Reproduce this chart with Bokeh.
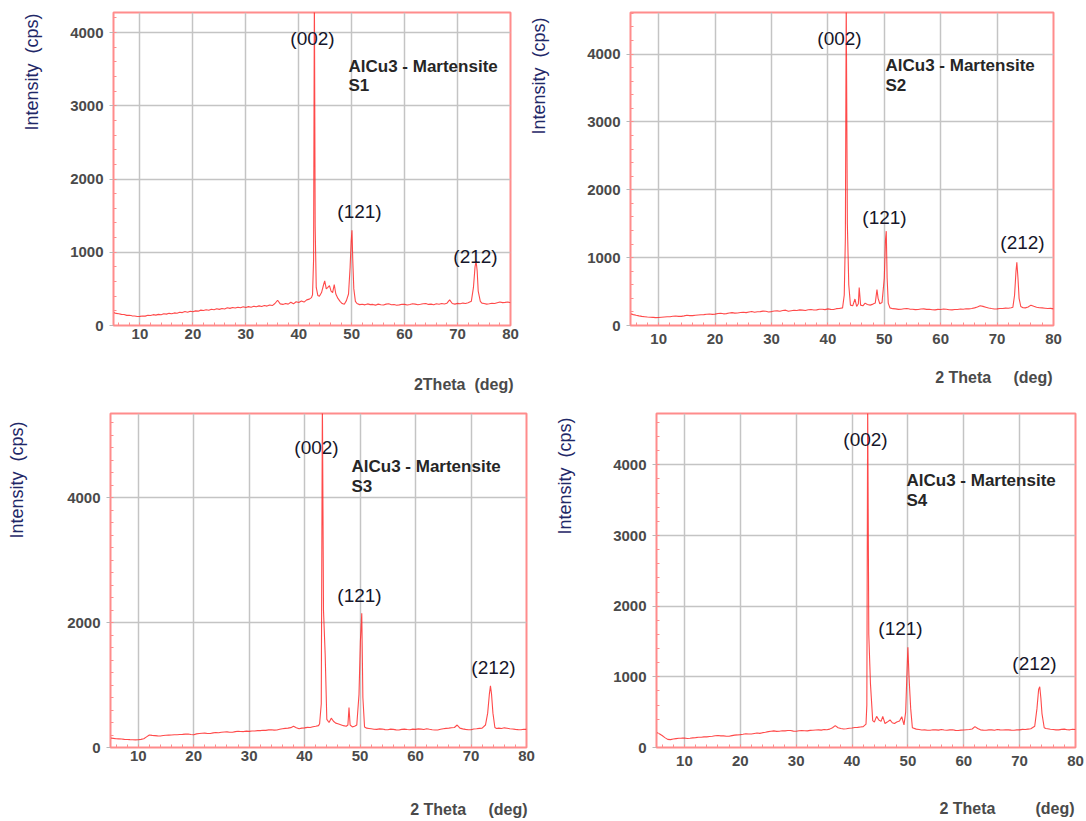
from bokeh.plotting import figure
from bokeh.models import Label, FixedTicker, Range1d, Title, LinearAxis
from bokeh.layouts import row, column
from bokeh.embed import file_html
from bokeh.resources import INLINE

# ---------------- data ----------------
tick_x = [10, 20, 30, 40, 50, 60, 70, 80]
peak_labels = ["(002)", "(121)", "(212)"]
phase_name = "AlCu3 - Martensite"
sample_names = ["S1", "S2", "S3", "S4"]
NB = "\u00a0"
y_title = "Intensity" + NB * 2 + "(cps)"
x_titles = ["2Theta" + NB * 2 + "(deg)",
            "2 Theta" + NB * 5 + "(deg)",
            "2 Theta" + NB * 5 + "(deg)",
            "2 Theta" + NB * 9 + "(deg)"]

# 2-theta sampling of the flat parts of the scans (deg)
scan_lo_tt = [5, 5.5, 6, 6.5, 7, 7.5, 8, 8.5, 9, 9.5,
              10, 10.5, 11, 11.5, 12, 12.5, 13, 13.5, 14, 14.5,
              15, 15.5, 16, 16.5, 17, 17.5, 18, 18.5, 19, 19.5,
              20, 20.5, 21, 21.5, 22, 22.5, 23, 23.5, 24, 24.5,
              25, 25.5, 26, 26.5, 27, 27.5, 28, 28.5, 29, 29.5,
              30, 30.5, 31, 31.5, 32, 32.5, 33, 33.5, 34, 34.5,
              35, 35.5, 36, 36.5, 37, 37.5, 38, 38.5, 39, 39.5,
              40, 40.5, 41, 41.5, 42]
scan_mid_tt = [52, 52.5, 53, 53.5, 54, 54.5, 55, 55.5, 56, 56.5,
               57, 57.5, 58, 58.5, 59, 59.5, 60, 60.5, 61, 61.5,
               62, 62.5, 63, 63.5, 64, 64.5, 65, 65.5, 66, 66.5,
               67, 67.5, 68, 68.5, 69, 69.5, 70, 70.5, 71, 71.5,
               72]
scan_hi_tt = [75, 75.5, 76, 76.5, 77, 77.5, 78, 78.5, 79, 79.5, 80]

# ---- S1 ----
s1_lo = [178, 165, 160, 152, 150, 138, 140, 132, 130, 122,
         125, 130, 128, 140, 136, 148, 142, 152, 146, 160,
         155, 166, 160, 172, 168, 180, 176, 190, 182, 195,
         188, 200, 196, 210, 204, 215, 208, 222, 216, 228,
         220, 232, 226, 242, 234, 246, 238, 250, 242, 255,
         246, 258, 250, 262, 256, 268, 260, 272, 265, 280,
         272, 300, 345, 295, 288, 300, 292, 318, 296, 325,
         315, 335, 320, 350, 360]
s1_pk1_tt = [42.4, 42.6, 42.8, 42.95, 43.1, 43.3, 43.6, 43.9, 44.3, 44.7,
             44.9, 45.2, 45.5, 45.8, 46.1, 46.4, 46.7, 47.0, 47.4, 47.8,
             48.2, 48.6, 49.0, 49.4, 49.7, 49.9, 50.05, 50.2, 50.4, 50.7,
             51.0, 51.5]
s1_pk1 = [380, 420, 900, 4600, 1350, 520, 410, 400, 450, 560,
          610, 500, 520, 545, 470, 450, 560, 430, 370, 330,
          300, 290, 340, 430, 800, 1150, 1300, 900, 500, 330,
          300, 285]
s1_mid = [290, 282, 295, 285, 288, 278, 292, 284, 280, 292,
          296, 284, 286, 276, 282, 290, 288, 280, 286, 296,
          292, 284, 290, 298, 300, 288, 292, 284, 296, 290,
          300, 294, 305, 350, 300, 292, 302, 296, 306, 300,
          312]
s1_pk2_tt = [72.6, 73.0, 73.3, 73.5, 73.7, 73.9, 74.3, 74.6]
s1_pk2 = [330, 520, 800, 880, 750, 470, 330, 305]
s1_hi = [300, 292, 296, 304, 300, 310, 320, 312, 316, 322, 310]

# ---- S2 ----
s2_lo = [172, 160, 150, 142, 135, 130, 125, 122, 120, 116,
         118, 122, 125, 128, 130, 136, 140, 134, 135, 142,
         150, 146, 145, 152, 155, 158, 160, 166, 170, 164,
         168, 176, 180, 172, 175, 184, 190, 182, 185, 192,
         195, 190, 200, 206, 195, 202, 205, 212, 210, 200,
         205, 214, 215, 210, 220, 226, 210, 218, 225, 222,
         230, 226, 220, 232, 235, 228, 230, 240, 240, 234,
         245, 238, 235, 248, 250]
s2_pk1_tt = [42.6, 42.9, 43.1, 43.25, 43.45, 43.7, 44.0, 44.4, 44.8, 45.1,
             45.4, 45.55, 45.8, 46.2, 46.6, 47.0, 47.5, 48.0, 48.4, 48.7,
             48.9, 49.2, 49.6, 50.0, 50.2, 50.35, 50.5, 50.7, 51.0, 51.5]
s2_pk1 = [260, 450, 1300, 4800, 1500, 600, 300, 290, 390, 280,
          320, 560, 300, 290, 330, 310, 300, 315, 330, 530,
          400, 320, 340, 700, 1250, 1390, 700, 330, 260, 248]
s2_mid = [245, 238, 240, 246, 250, 242, 240, 234, 235, 244,
          245, 238, 240, 232, 230, 238, 235, 242, 240, 232,
          230, 236, 235, 242, 240, 246, 245, 250, 260, 272,
          290, 282, 270, 258, 250, 244, 245, 250, 250, 256,
          255]
s2_pk2_tt = [72.5, 72.8, 73.1, 73.35, 73.5, 73.7, 73.9, 74.2, 74.6]
s2_pk2 = [262, 270, 450, 800, 930, 700, 400, 280, 262]
s2_hi = [260, 272, 300, 284, 270, 262, 260, 255, 250, 252, 245]

# ---- S3 ----
s3_lo = [152, 146, 140, 138, 135, 130, 128, 126, 125, 122,
         124, 130, 140, 170, 200, 194, 190, 186, 185, 192,
         195, 198, 200, 204, 205, 208, 210, 214, 215, 208,
         205, 218, 225, 228, 230, 224, 225, 234, 240, 236,
         245, 248, 250, 244, 245, 254, 260, 256, 255, 262,
         258, 264, 265, 270, 270, 276, 275, 282, 285, 278,
         280, 292, 300, 306, 310, 318, 340, 318, 300, 310,
         315, 322, 320, 332, 340]
s3_pk1_tt = [42.5, 42.7, 43.0, 43.2, 43.4, 43.7, 44.0, 44.4, 44.8, 45.2,
             45.6, 46.0, 46.5, 47.0, 47.5, 47.8, 48.0, 48.2, 48.6, 49.0,
             49.4, 49.8, 50.05, 50.3, 50.5, 50.8, 51.2, 51.6]
s3_pk1 = [350, 380, 700, 5600, 2200, 1500, 450, 400, 470, 420,
          390, 380, 365, 350, 340, 360, 640, 360, 330, 340,
          360, 850, 1700, 2150, 800, 330, 310, 305]
s3_mid = [300, 292, 290, 298, 295, 286, 285, 294, 290, 282,
          280, 290, 295, 288, 285, 294, 290, 298, 295, 288,
          300, 292, 285, 280, 280, 292, 300, 306, 310, 316,
          320, 360, 310, 298, 290, 284, 285, 296, 300, 306,
          310]
s3_pk2_tt = [72.6, 73.0, 73.3, 73.5, 73.7, 73.95, 74.3, 74.6]
s3_pk2 = [360, 550, 850, 990, 850, 550, 320, 305]
s3_hi = [310, 304, 315, 308, 300, 296, 290, 286, 285, 292, 290]

# ---- S4 ----
s4_lo = [212, 195, 170, 140, 115, 112, 120, 125, 130, 132,
         135, 128, 130, 136, 140, 146, 145, 150, 150, 156,
         160, 166, 170, 164, 165, 160, 160, 168, 175, 178,
         182, 188, 195, 190, 190, 198, 205, 200, 210, 216,
         225, 230, 235, 228, 230, 236, 235, 240, 240, 232,
         229, 236, 240, 236, 235, 242, 245, 248, 250, 246,
         255, 252, 260, 280, 310, 280, 270, 262, 265, 272,
         275, 282, 285, 290, 295]
s4_pk1_tt = [42.5, 42.65, 42.8, 43.0, 43.3, 43.7, 44.0, 44.4, 44.8, 45.2,
             45.5, 45.9, 46.3, 46.8, 47.2, 47.6, 48.0, 48.5, 48.9, 49.3,
             49.6, 49.85, 50.0, 50.2, 50.5, 50.8, 51.5]
s4_pk1 = [330, 600, 4900, 1600, 900, 380, 360, 440, 390, 370,
          440, 340, 360, 390, 350, 340, 360, 375, 435, 320,
          500, 1100, 1420, 1000, 550, 280, 260]
s4_mid = [255, 248, 250, 244, 245, 252, 250, 246, 255, 248,
          245, 250, 250, 242, 240, 246, 248, 252, 255, 262,
          295, 268, 250, 246, 245, 250, 250, 244, 255, 250,
          248, 252, 250, 246, 245, 250, 250, 256, 255, 260,
          265]
s4_pk2_tt = [72.7, 73.1, 73.4, 73.6, 73.8, 74.0, 74.4, 74.7]
s4_pk2 = [300, 550, 820, 860, 700, 480, 280, 268]
s4_hi = [265, 258, 255, 250, 250, 256, 260, 252, 250, 258, 255]


def scan(pk1_tt, pk2_tt):
    return scan_lo_tt + pk1_tt + scan_mid_tt + pk2_tt + scan_hi_tt


s1_tt, s1_cps = scan(s1_pk1_tt, s1_pk2_tt), s1_lo + s1_pk1 + s1_mid + s1_pk2 + s1_hi
s2_tt, s2_cps = scan(s2_pk1_tt, s2_pk2_tt), s2_lo + s2_pk1 + s2_mid + s2_pk2 + s2_hi
s3_tt, s3_cps = scan(s3_pk1_tt, s3_pk2_tt), s3_lo + s3_pk1 + s3_mid + s3_pk2 + s3_hi
s4_tt, s4_cps = scan(s4_pk1_tt, s4_pk2_tt), s4_lo + s4_pk1 + s4_mid + s4_pk2 + s4_hi
for a, b in ((s1_tt, s1_cps), (s2_tt, s2_cps), (s3_tt, s3_cps), (s4_tt, s4_cps)):
    assert len(a) == len(b), (len(a), len(b))

# ---------------- style ----------------
FONT = "Liberation Sans"
TRACE = "#ff2a2a"
FRAME = "#ff8c8c"
GRID = "#c4c4c4"
TICKTXT = "#4a4a4a"
NAVY = "#1f2868"
INK = "#16162a"

# figure box (left, top, width, height) and frame box (l, t, r, b), in page pixels
panels = [
    dict(tt=s1_tt, cps=s1_cps, ymax=4274, yticks=[0, 1000, 2000, 3000, 4000],
         box=(0, 0, 520, 405), frame=(113, 12, 510, 330), xstand=3,
         lab002=(312, 38), lab121=(359, 211), lab212=(475, 256),
         title=(348, 66), sample=(348, 85),
         ygap=25, yoff=195, xgap=33, xoff=-3),
    dict(tt=s2_tt, cps=s2_cps, ymax=4612, yticks=[0, 1000, 2000, 3000, 4000],
         box=(520, 0, 566, 405), frame=(630, 11, 1053, 325), xstand=8,
         lab002=(839, 38), lab121=(884, 217), lab212=(1022, 242),
         title=(885, 65), sample=(885, 85),
         ygap=35, yoff=191, xgap=21, xoff=1),
    dict(tt=s3_tt, cps=s3_cps, ymax=5350, yticks=[0, 2000, 4000],
         box=(0, 405, 540, 416), frame=(110, 413, 526, 747), xstand=3,
         lab002=(316, 447), lab121=(359, 595), lab212=(493, 667),
         title=(351, 466), sample=(351, 486),
         ygap=37, yoff=209, xgap=36, xoff=-1),
    dict(tt=s4_tt, cps=s4_cps, ymax=4727, yticks=[0, 1000, 2000, 3000, 4000],
         box=(540, 405, 546, 416), frame=(656, 409, 1075, 747), xstand=8,
         lab002=(865, 439), lab121=(900, 628), lab212=(1034, 663),
         title=(906, 480), sample=(906, 500),
         ygap=35, yoff=213, xgap=30, xoff=1),
]


def put(p, pn, px, py, text, size, color, bold=False, align="center"):
    bx, by = pn["box"][0], pn["box"][1]
    p.add_layout(Label(x=px - bx, y=py - by, x_units="canvas", y_units="canvas",
                       text=text, text_font=FONT, text_font_size=f"{size}px",
                       text_font_style="bold" if bold else "normal", text_color=color,
                       text_align=align, text_baseline="middle"))


def spacer(p, gap, place, at):
    # a blank axis (one white tick, empty label) that only reserves room before the title
    ax = LinearAxis(ticker=FixedTicker(ticks=[at]), major_label_overrides={at: ""},
                    axis_line_color=None, major_tick_line_color="white",
                    minor_tick_line_color=None, major_tick_in=0, major_tick_out=gap,
                    minor_tick_in=0, minor_tick_out=0, major_label_standoff=0,
                    major_label_text_font_size="1px")
    p.add_layout(ax, place)


figs = []
for i, pn in enumerate(panels):
    fx, fy, fw, fh = pn["box"]
    l, t, r, b = pn["frame"]
    p = figure(width=fw, height=fh, x_range=Range1d(5, 80), y_range=Range1d(0, pn["ymax"]),
               output_backend="svg", toolbar_location=None,
               min_border_left=l - fx, min_border_top=t - fy,
               min_border_right=fx + fw - r, min_border_bottom=fy + fh - b)
    p.background_fill_color = "white"
    p.border_fill_color = "white"
    p.outline_line_color = FRAME
    p.outline_line_width = 2

    p.xaxis.ticker = FixedTicker(ticks=tick_x, minor_ticks=[v for v in range(6, 80, 2)])
    p.yaxis.ticker = FixedTicker(ticks=pn["yticks"],
                                 minor_ticks=[v for v in range(0, int(pn["ymax"]), 200)])
    for ax in (p.xaxis[0], p.yaxis[0]):
        ax.axis_line_color = FRAME
        ax.axis_line_width = 1
        ax.minor_tick_line_color = FRAME
        ax.minor_tick_in = 3
        ax.minor_tick_out = 0
        ax.major_label_text_font = FONT
        ax.major_label_text_font_size = "15px"
        ax.major_label_text_font_style = "bold"
        ax.major_label_text_color = TICKTXT
    p.xaxis.major_tick_line_color = None
    p.xaxis.major_tick_in = 0
    p.xaxis.major_tick_out = 0
    p.xaxis.major_label_standoff = pn["xstand"]
    p.yaxis.major_tick_line_color = "#b8b8b8"
    p.yaxis.major_tick_in = 0
    p.yaxis.major_tick_out = 4
    p.yaxis.major_label_standoff = 6
    p.xgrid.grid_line_color = GRID
    p.ygrid.grid_line_color = GRID
    p.xgrid.grid_line_width = 1.5
    p.ygrid.grid_line_width = 1.5

    p.line(pn["tt"], pn["cps"], line_color=TRACE, line_width=1.1, line_alpha=0.85)

    for key, txt in zip(("lab002", "lab121", "lab212"), peak_labels):
        put(p, pn, *pn[key], txt, 19, INK)
    put(p, pn, *pn["title"], phase_name, 17, "#262626", bold=True, align="left")
    put(p, pn, *pn["sample"], sample_names[i], 17, "#262626", bold=True, align="left")

    # axis titles as side-panel titles, pushed outwards by blank spacer axes
    spacer(p, pn["ygap"], "left", 2000)
    p.add_layout(Title(text=y_title, align="left", vertical_align="middle",
                       offset=pn["yoff"], standoff=0, text_font=FONT,
                       text_font_size="18px", text_font_style="normal",
                       text_color=NAVY), "left")
    spacer(p, pn["xgap"], "below", 42)
    p.add_layout(Title(text=x_titles[i], align="right", vertical_align="middle",
                       offset=pn["xoff"], standoff=0, text_font=FONT,
                       text_font_size="16px", text_font_style="bold",
                       text_color="#4a4a4a"), "below")
    figs.append(p)

p1, p2, p3, p4 = figs
layout = column(row(p1, p2), row(p3, p4))
open("out.html", "w").write(file_html(layout, INLINE))
